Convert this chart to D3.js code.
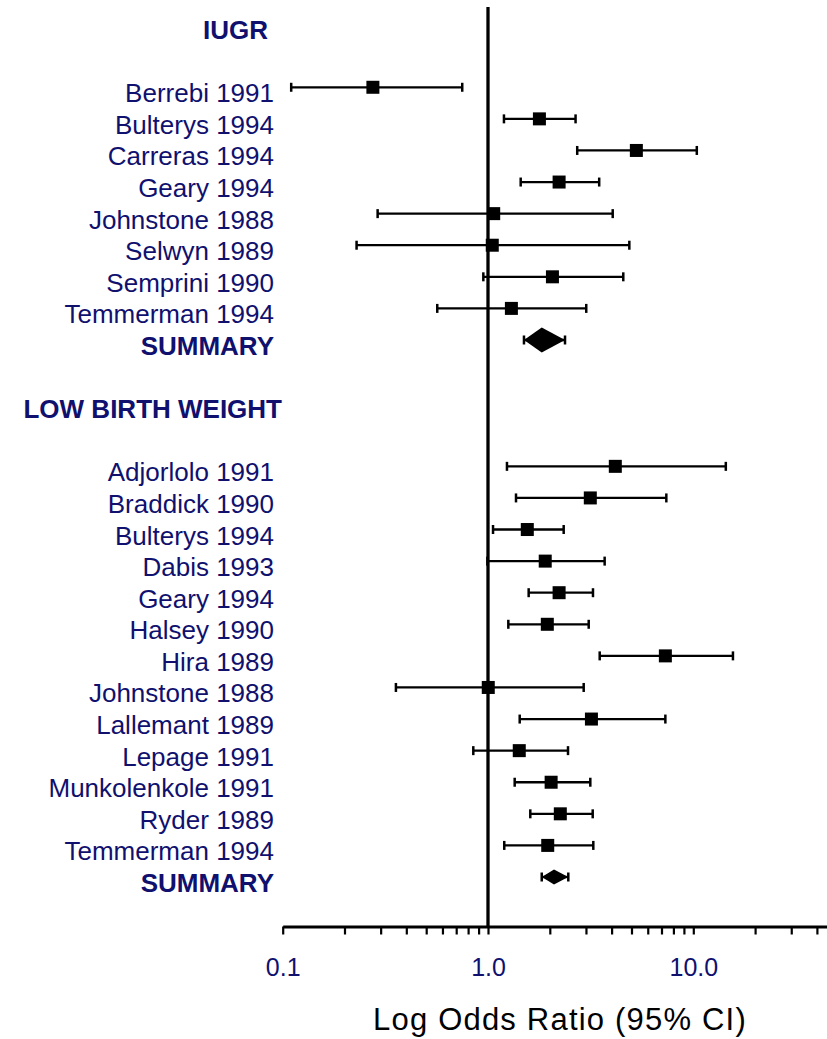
<!DOCTYPE html>
<html lang="en">
<head>
  <meta charset="utf-8">
  <title>Log Odds Ratio forest plot</title>
  <script src="https://cdnjs.cloudflare.com/ajax/libs/d3/7.8.5/d3.min.js"></script>
  <style>
    body { margin: 0; background: #fff; }
    svg { display: block; font-family: "Liberation Sans", Arial, sans-serif; }
  </style>
</head>
<body>
<div id="ChartArea"></div>
<script>
// IUGR studies
const iugrStudies = ["Berrebi 1991", "Bulterys 1994", "Carreras 1994", "Geary 1994",
  "Johnstone 1988", "Selwyn 1989", "Semprini 1990", "Temmerman 1994"];
const iugrOR    = [0.275, 1.78, 5.28, 2.22, 1.066, 1.049, 2.06, 1.30];
const iugrLower = [0.110, 1.196, 2.72, 1.443, 0.290, 0.229, 0.949, 0.566];
const iugrUpper = [0.749, 2.67, 10.4, 3.48, 4.05, 4.88, 4.56, 3.01];
const iugrSummary = [1.497, 1.827, 2.372]; // lower, OR, upper

// low birth weight studies
const lbwStudies = ["Adjorlolo 1991", "Braddick 1990", "Bulterys 1994", "Dabis 1993",
  "Geary 1994", "Halsey 1990", "Hira 1989", "Johnstone 1988", "Lallemant 1989",
  "Lepage 1991", "Munkolenkole 1991", "Ryder 1989", "Temmerman 1994"];
const lbwOR    = [4.17, 3.15, 1.554, 1.90, 2.22, 1.945, 7.31, 1.003, 3.19, 1.42, 2.03, 2.25, 1.954];
const lbwLower = [1.237, 1.369, 1.058, 0.993, 1.578, 1.256, 3.50, 0.356, 1.427, 0.848, 1.349, 1.607, 1.20];
const lbwUpper = [14.4, 7.39, 2.337, 3.70, 3.246, 3.094, 15.6, 2.925, 7.31, 2.453, 3.15, 3.236, 3.258];
const lbwSummary = [1.827, 2.097, 2.461];

const groupTitles = ["IUGR", "LOW BIRTH WEIGHT"];
const tickValuesMajor = [0.1, 1, 10];
const tickLabels = ["0.1", "1.0", "10.0"];
const axisTitle = "Log Odds Ratio (95% CI)";

const width = 827, height = 1039;
const navy = "#10106e";

const svg = d3.select("#ChartArea").append("svg")
  .attr("width", width)
  .attr("height", height);

// scales
const x = d3.scaleLog().domain([0.1, 50]).range([282.7, 282.7 + 205.3 * Math.log10(500)]);
const y = d3.scaleLinear().domain([-2, 25]).range([24.1, 877]);

// build rows: header, studies, summary
const rows = [];
rows.push({ type: "header", label: groupTitles[0], row: -2, xEnd: 268 });
iugrStudies.forEach((s, i) => rows.push({ type: "study", label: s, row: i, or: iugrOR[i], lo: iugrLower[i], hi: iugrUpper[i] }));
rows.push({ type: "summary", label: "SUMMARY", row: 8, lo: iugrSummary[0], or: iugrSummary[1], hi: iugrSummary[2], h: 12.5 });
rows.push({ type: "header", label: groupTitles[1], row: 10, xEnd: 282 });
lbwStudies.forEach((s, i) => rows.push({ type: "study", label: s, row: 12 + i, or: lbwOR[i], lo: lbwLower[i], hi: lbwUpper[i] }));
rows.push({ type: "summary", label: "SUMMARY", row: 25, lo: lbwSummary[0], or: lbwSummary[1], hi: lbwSummary[2], h: 7.5 });

// labels
svg.append("g").selectAll("text")
  .data(rows)
  .enter().append("text")
  .attr("x", d => d.type === "header" ? d.xEnd : 274)
  .attr("y", d => y(d.row) + 15)
  .attr("text-anchor", "end")
  .attr("fill", navy)
  .attr("font-size", "26px")
  .attr("font-weight", d => d.type === "study" ? "normal" : "bold")
  .text(d => d.label);

// x axis
const minorTicks = [];
[0.1, 1, 10].forEach(dec => { for (let k = 1; k <= 9; k++) minorTicks.push(+(dec * k).toPrecision(3)); });
const axisY = 926.5;
const gx = svg.append("g")
  .attr("transform", "translate(0," + axisY + ")")
  .call(d3.axisBottom(x)
    .tickValues(minorTicks.filter(v => v <= 50))
    .tickSize(8)
    .tickSizeOuter(0)
    .tickFormat(v => {
      const i = tickValuesMajor.indexOf(v);
      return i >= 0 ? tickLabels[i] : "";
    }));
gx.select(".domain").attr("stroke", "#000").attr("stroke-width", 3);
gx.selectAll(".tick line").attr("stroke", "#000").attr("stroke-width", 2.2);
gx.selectAll(".tick text")
  .attr("y", 49.5)
  .attr("dy", 0)
  .attr("fill", navy)
  .attr("font-size", "25px")
  .attr("font-family", "Liberation Sans, Arial, sans-serif");

// axis title
svg.append("text")
  .attr("x", 560)
  .attr("y", 1030)
  .attr("text-anchor", "middle")
  .attr("font-size", "31px")
  .attr("letter-spacing", "1.2px")
  .attr("fill", "#000")
  .text(axisTitle);

// line of no effect
svg.append("line")
  .attr("x1", x(1)).attr("x2", x(1))
  .attr("y1", 7).attr("y2", axisY)
  .attr("stroke", "#000")
  .attr("stroke-width", 3.3);

// error bars
const marks = svg.append("g");
const items = rows.filter(d => d.type !== "header");

marks.selectAll(".ci")
  .data(items)
  .enter().append("line")
  .attr("class", "ci")
  .attr("x1", d => x(d.lo)).attr("x2", d => x(d.hi))
  .attr("y1", d => y(d.row)).attr("y2", d => y(d.row))
  .attr("stroke", "#000")
  .attr("stroke-width", 2.3);

["lo", "hi"].forEach(k => {
  marks.selectAll(".cap-" + k)
    .data(items)
    .enter().append("line")
    .attr("class", "cap-" + k)
    .attr("x1", d => x(d[k])).attr("x2", d => x(d[k]))
    .attr("y1", d => y(d.row) - 4.5).attr("y2", d => y(d.row) + 4.5)
    .attr("stroke", "#000")
    .attr("stroke-width", 2.5);
});

// point estimates
const sq = 13;
marks.selectAll(".pt")
  .data(rows.filter(d => d.type === "study"))
  .enter().append("rect")
  .attr("class", "pt")
  .attr("x", d => x(d.or) - sq / 2)
  .attr("y", d => y(d.row) - sq / 2)
  .attr("width", sq)
  .attr("height", sq)
  .attr("fill", "#000");

// summary diamonds
marks.selectAll(".diamond")
  .data(rows.filter(d => d.type === "summary"))
  .enter().append("path")
  .attr("class", "diamond")
  .attr("d", d => {
    const cy = y(d.row);
    return "M" + x(d.lo) + "," + cy +
      "L" + x(d.or) + "," + (cy - d.h) +
      "L" + x(d.hi) + "," + cy +
      "L" + x(d.or) + "," + (cy + d.h) + "Z";
  })
  .attr("fill", "#000");
</script>
</body>
</html>
